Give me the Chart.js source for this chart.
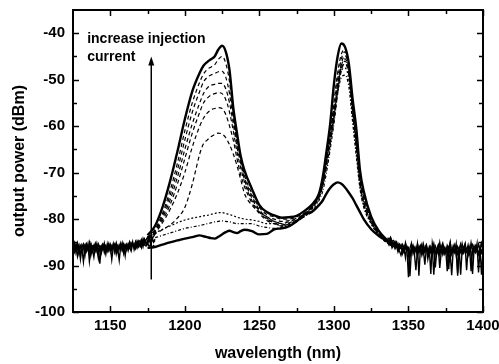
<!DOCTYPE html>
<html>
<head>
<meta charset="utf-8">
<script src="https://cdn.jsdelivr.net/npm/chart.js@4.4.1/dist/chart.umd.min.js"></script>
<style>
    html, body { margin: 0; padding: 0; background: #fff; }
    #wrap { width: 499px; height: 364px; }
</style>
</head>
<body>
<div id="wrap"><canvas id="spectrum" width="499" height="364"></canvas></div>
<script>
// Optical spectra vs injection current - Chart.js recreation

// wavelength grid (nm) shared by the smooth spectra
const wl = [1175, 1180, 1185, 1190, 1195, 1200, 1205,
    1210, 1212.5, 1215, 1217.5, 1220, 1222.5, 1225, 1227.5, 1230, 1232.5, 1235, 1237.5, 1240,
    1245, 1250, 1255, 1260, 1265, 1270, 1275, 1280, 1285, 1290,
    1292.5, 1295, 1297.5, 1300, 1302.5, 1305, 1307.5, 1310, 1312.5, 1315, 1317.5, 1320,
    1325, 1330, 1335, 1340, 1345];

// highest current (thick solid)
const specTop = [-83.5, -81.5, -77.5, -72, -65.5, -58.5, -52.5,
    -48.5, -47, -46.2, -45.6, -45, -43.5, -42.7, -44, -48, -56, -61.5, -66.5, -69.5,
    -73.5, -77, -78.5, -79.2, -79.7, -79.6, -79.3, -78.3, -77, -74.5,
    -71, -65.5, -59.5, -51, -45, -42.2, -43, -46.5, -54, -60.5, -69.5, -74,
    -79.5, -82.5, -84.3, -85.3, -86];

// intermediate currents (dashed)
const specD1 = [-84, -82.2, -78.8, -74, -68, -61, -55,
    -50.5, -48.8, -47.8, -47.3, -46.8, -45.6, -45, -46.5, -50.5, -57.5, -62.5, -67, -70.5,
    -74.5, -77.5, -79, -79.5, -80, -80, -79.5, -78.7, -77.5, -75,
    -72, -67, -62, -55, -48.5, -44.5, -43.5, -46.5, -54.5, -62, -70, -74.5,
    -80, -82.8, -84.5, -85.5, -86.2];
const specD2 = [-84, -82.4, -79.3, -75, -69.5, -63, -57,
    -52.5, -50.5, -49.5, -49, -48.7, -48.3, -48.2, -49.5, -53, -58.5, -63.5, -67.5, -71,
    -75, -78, -79.5, -80, -80.5, -80.3, -79.8, -79, -77.5, -75,
    -72, -67, -62, -56, -50, -45.5, -44, -47, -55, -62.5, -70.5, -75,
    -80.2, -83, -84.6, -85.6, -86.3];
const specD3 = [-84, -82.6, -79.8, -76, -71, -65, -59.5,
    -55, -53, -51.8, -51.2, -51, -50.8, -50.8, -52, -55, -59.5, -64.5, -68, -71.5,
    -75.5, -78.3, -79.8, -80.5, -81, -80.5, -80, -79, -77.5, -75,
    -72, -67, -62, -57, -51, -46.5, -44.8, -47.5, -55.5, -63, -71, -75.5,
    -80.3, -83, -84.6, -85.6, -86.3];
const specD4 = [-84, -82.8, -80.3, -77, -72.5, -67, -61.5,
    -57, -55, -54, -53.3, -53, -52.8, -53, -54.3, -57, -61, -65.5, -69, -72,
    -76, -78.5, -80, -80.8, -81.3, -80.8, -80.2, -79.2, -77.5, -75,
    -72.2, -67.5, -62.5, -58, -52, -47, -45.5, -48, -56, -63.5, -71.5, -76,
    -80.5, -83.1, -84.7, -85.7, -86.4];
const specD5 = [-84.2, -83, -80.8, -78, -74.5, -70, -64.5,
    -60, -58.3, -57.2, -56.5, -56.2, -56, -56.2, -57.5, -60, -63, -67, -70.5, -73,
    -76.5, -78.8, -80.3, -81, -81.5, -81, -80.3, -79.3, -77.5, -75.2,
    -72.5, -68, -63, -58.5, -52.5, -47.5, -46, -48.5, -56.5, -64, -72, -76.5,
    -80.5, -83.2, -84.7, -85.7, -86.4];
const specD6 = [-84.2, -83.2, -82.3, -81.3, -79.8, -77.5, -72.5,
    -66, -63.8, -63, -62.3, -61.8, -61.5, -61.7, -62.5, -64, -66, -68.5, -71.5, -74.5,
    -77, -78.5, -79.5, -80.5, -81, -81.5, -80.5, -79.5, -77.8, -75.3,
    -72.8, -68.5, -63.5, -59, -53, -48, -46.5, -49, -57, -64.5, -72.5, -76.8,
    -80.7, -83.3, -84.8, -85.8, -86.5];

// low currents (dotted)
const specP1 = [-84, -83, -82.2, -81.5, -80.8, -80.2, -79.8,
    -79.5, -79.3, -79.2, -79, -78.8, -78.6, -78.6, -78.8, -79, -79.3, -79.6, -79.8, -80,
    -80.2, -80.5, -81, -81, -81.5, -81, -80.5, -79.5, -78, -75.5,
    -73, -69, -64, -58, -51, -48, -47.5, -50, -58, -65.5, -73, -77,
    -81, -83.4, -84.9, -85.8, -86.5];
const specP2 = [-84.5, -84, -83.5, -83, -82.5, -82, -81.7,
    -81.4, -81.2, -81, -80.8, -80.6, -80.5, -80.4, -80.5, -80.6, -80.8, -81, -81, -81,
    -81, -81.5, -81.8, -82, -81.8, -81.2, -80.5, -79.5, -78.5, -76,
    -74, -70, -65, -59.5, -53, -49.5, -49, -51.5, -59, -66.5, -73.5, -77.5,
    -81, -83.5, -85, -85.9, -86.6];

// lowest current (thick solid)
const specLow = [-86.2, -86, -85.5, -85, -84.6, -84.2, -83.9,
    -83.5, -83.7, -83.9, -84.1, -84.2, -83.8, -83.3, -82.8, -82.5, -82.8, -83, -82.6, -82.3,
    -82.6, -83.3, -83.2, -82.2, -82, -81.5, -80.5, -79, -78.5, -77,
    -76, -74.5, -73.3, -72.5, -72.1, -72.4, -73.2, -74.3, -75.5, -77, -78.5, -80,
    -82.2, -83.6, -84.6, -85.5, -86.2];

// noise floor traces, 1 nm apart
const noiseLeftStart = 1125;
const noiseL1 = [-86.5, -85.2, -87.3, -86, -85.5, -88.6, -86.2, -85.4, -86.9, -85.8,
    -86.4, -85.1, -87.8, -86.3, -85.6, -86.8, -85.3, -87.1, -86, -85.7,
    -86.6, -85.2, -86.9, -85.9, -86.3, -85.4, -86.7, -85.6, -86.2, -85.1,
    -86.5, -88.9, -85.8, -86.1, -85.3, -86.4, -85.6, -86, -84.9, -85.8,
    -85.2, -86.1, -84.8, -85.5, -85, -84.6, -85.6, -84.2, -85.1, -84.5,
    -83.9, -84.8, -83.6, -84.2, -83.8, -83.2];
const noiseL2 = [-85.8, -86.9, -85.4, -86.3, -87.6, -85.9, -86.5, -89.2, -86, -85.3,
    -86.7, -86.1, -85.5, -87, -86.2, -85.2, -86.4, -88.4, -85.9, -86.5,
    -85.6, -87.2, -85.8, -86.4, -85.3, -86.9, -85.7, -86.3, -85.5, -87.5,
    -85.9, -86.2, -85.4, -86.6, -85.7, -87.9, -85.5, -85.9, -86.3, -85.1,
    -85.7, -85.3, -86.2, -84.7, -85.4, -85.9, -84.9, -85.3, -84.4, -85.5,
    -84.7, -84.1, -85.2, -84.4, -84.9, -84.3];
const noiseL3 = [-86.9, -86.1, -85.6, -88, -86.4, -85.7, -86.8, -86.2, -85.5, -86.9,
    -85.4, -89.1, -86.3, -85.8, -86.7, -86.1, -85.5, -86.4, -89.6, -86,
    -85.4, -86.3, -85.7, -86.9, -85.5, -86.1, -86.6, -85.3, -87.2, -86,
    -85.6, -86.4, -85.2, -86.8, -85.9, -85.5, -86.6, -85.3, -86.1, -86.9,
    -85.4, -85.8, -86.4, -85.2, -86, -85.3, -86.2, -84.9, -85.6, -85.8,
    -85.1, -85.9, -85.5, -86.2, -85.7, -86];
const noiseL4 = [-85.3, -87.1, -86.2, -85.1, -86.6, -87.4, -85.5, -86.1, -87.9, -85.6,
    -86.2, -87, -85.3, -86.5, -88.2, -85.8, -86.9, -85.4, -86.3, -87.3,
    -85.5, -86.1, -87.6, -85.4, -86.8, -85.9, -88.7, -86.1, -85.4, -86.3,
    -87.1, -85.6, -86.5, -85.2, -87.4, -86, -85.4, -86.8, -85.6, -86.2,
    -84.9, -86.6, -85.5, -86.2, -84.8, -85.7, -84.5, -85.9, -84.3, -84.9,
    -85.4, -84.2, -84.8, -83.9, -85, -84.6];

const noiseRightStart = 1336;
const noiseR1 = [-84, -84.4, -83.9, -84.8, -84.6, -85.3, -84.9, -86.1, -85.4, -86.2,
    -85.5, -86.8, -85.1, -86.5, -92.5, -86.3, -85.2, -87.4, -86.1, -86.8,
    -85.3, -92.2, -86.4, -87.2, -85.4, -86.9, -85.7, -87.3, -86.4, -91.8,
    -85.2, -87, -85.8, -86.7, -87.4, -85.1, -86.9, -85.6, -87.1, -86.3,
    -91.2, -86.8, -85, -87.5, -86.2, -87, -85.4, -91.6, -86.6, -87.2,
    -85.3, -86.8, -85.5, -91, -86.4, -87.3, -85.1, -86.9, -85.8, -87,
    -85.3, -91.5, -86.6, -85.2, -86.8];
const noiseR2 = [-84.6, -85, -84.3, -85.4, -85.2, -84.8, -85.9, -85.3, -86.4, -85.6,
    -86.9, -85.8, -86.3, -86, -87.1, -92.3, -86.7, -86, -87.6, -86.2,
    -87.3, -86.5, -85.7, -87, -86.6, -89.8, -86.3, -87.1, -85.9, -86.8,
    -87.5, -86.2, -90.4, -86.9, -85.7, -87.2, -86.4, -87.6, -86.1, -86.9,
    -86.3, -90.8, -86.5, -87.4, -85.8, -86.9, -86.2, -87.5, -86.4, -92,
    -86.6, -87.3, -85.9, -86.8, -87.6, -86.2, -91.2, -86.7, -87.1, -85.9,
    -86.8, -87.3, -86.2, -86.9, -86.3];
const noiseR3 = [-85.1, -84.7, -85.5, -85.2, -85.8, -86.1, -85.4, -86.6, -86.9, -87.8,
    -86.4, -87.2, -86.1, -86.8, -86.2, -88.1, -87, -86.4, -87.5, -91,
    -86.7, -87.3, -86.2, -87.8, -86.5, -87.1, -86, -88.6, -86.8, -87.3,
    -86.4, -92, -86.9, -87.4, -86.2, -90.5, -87, -86.5, -87.6, -86.8,
    -87.2, -86.1, -87.4, -92.1, -86.7, -87.3, -86.4, -92.2, -87, -86.5,
    -87.4, -86.2, -87.1, -86.6, -87.8, -86.3, -87, -91.8, -86.5, -87.2,
    -86.4, -87.6, -86.1, -92, -86.7];
const noiseR4 = [-84.9, -85.6, -85, -86.2, -85.6, -86.4, -85.8, -87.1, -86.3, -85.7,
    -87.4, -86.1, -88.3, -85.9, -86.7, -87.5, -86.2, -85.6, -87, -86.4,
    -87.9, -85.8, -86.6, -85.4, -87.3, -86.1, -85.5, -86.9, -87.6, -85.9,
    -86.6, -85.3, -87.2, -86.4, -85.6, -87.7, -86, -85.2, -86.8, -87.4,
    -85.7, -86.5, -85.1, -87, -86.3, -85.5, -87.8, -85.9, -86.6, -85.4,
    -87.2, -86.1, -85.3, -86.9, -85.6, -87.4, -86.2, -85.5, -86.7, -85.8,
    -87.1, -85.4, -86.5, -87.3, -85.9];

// axes
const xMin = 1125, xMax = 1400;
const yMin = -100, yMax = -35;
const xMajorTicks = [1150, 1200, 1250, 1300, 1350, 1400];
const xMinorTicks = [1175, 1225, 1275, 1325, 1375];
const yMajorTicks = [-100, -90, -80, -70, -60, -50, -40];
const yMinorTicks = [-95, -85, -75, -65, -55, -45];

// annotation: arrow + text
const arrowX = [1177.5, 1177.5];
const arrowY = [-93, -45];
const noteLines = ['increase injection', 'current'];
const noteX = 1134.5;
const noteY = [-42, -46];

const fontFace = "'Liberation Sans', Arial, Helvetica, sans-serif";

function toPoints(xs, ys) {
    return ys.map((v, i) => ({ x: xs[i], y: v }));
}

function noisePoints(start, ys) {
    return ys.map((v, i) => ({ x: start + i, y: v }));
}

function spectrum(ys, width, dash) {
    return {
        data: toPoints(wl, ys),
        borderColor: '#000',
        borderWidth: width,
        borderDash: dash,
        pointRadius: 0,
        fill: false,
        cubicInterpolationMode: 'monotone'
    };
}

function noise(start, ys) {
    return {
        data: noisePoints(start, ys),
        borderColor: '#000',
        borderWidth: 1.4,
        pointRadius: 0,
        fill: false,
        tension: 0
    };
}

// inward ticks on all four sides, frame, arrow and note
const frameTicks = {
    id: 'frameTicks',
    afterDatasetsDraw(chart) {
        const { ctx, chartArea: a, scales: { x, y } } = chart;
        ctx.save();
        ctx.strokeStyle = '#000';
        ctx.fillStyle = '#000';
        ctx.lineWidth = 1.5;

        const seg = (x1, y1, x2, y2) => {
            ctx.beginPath();
            ctx.moveTo(x1, y1);
            ctx.lineTo(x2, y2);
            ctx.stroke();
        };

        const xTick = (v, len) => {
            const px = Math.round(x.getPixelForValue(v)) + 0.5;
            seg(px, a.bottom, px, a.bottom - len);
            seg(px, a.top, px, a.top + len);
        };
        const yTick = (v, len) => {
            const py = Math.round(y.getPixelForValue(v)) + 0.5;
            seg(a.left, py, a.left + len, py);
            seg(a.right, py, a.right - len, py);
        };
        xMajorTicks.forEach(v => xTick(v, 6));
        xMinorTicks.forEach(v => xTick(v, 4));
        yMajorTicks.forEach(v => yTick(v, 6));
        yMinorTicks.forEach(v => yTick(v, 4));

        ctx.lineWidth = 2;
        ctx.strokeRect(a.left, a.top, a.right - a.left, a.bottom - a.top);

        // arrow
        const ax = x.getPixelForValue(arrowX[0]);
        const ay0 = y.getPixelForValue(arrowY[0]);
        const ay1 = y.getPixelForValue(arrowY[1]);
        ctx.lineWidth = 1.5;
        seg(ax, ay0, ax, ay1 + 6);
        ctx.beginPath();
        ctx.moveTo(ax, ay1);
        ctx.lineTo(ax - 3, ay1 + 9);
        ctx.lineTo(ax + 3, ay1 + 9);
        ctx.closePath();
        ctx.fill();

        // note text
        ctx.font = 'bold 14px ' + fontFace;
        ctx.textAlign = 'left';
        ctx.textBaseline = 'alphabetic';
        noteLines.forEach((t, i) => {
            ctx.fillText(t, x.getPixelForValue(noteX), y.getPixelForValue(noteY[i]));
        });
        ctx.restore();
    }
};

const datasets = [
    noise(noiseLeftStart, noiseL1),
    noise(noiseLeftStart, noiseL2),
    noise(noiseLeftStart, noiseL3),
    noise(noiseLeftStart, noiseL4),
    noise(noiseRightStart, noiseR1),
    noise(noiseRightStart, noiseR2),
    noise(noiseRightStart, noiseR3),
    noise(noiseRightStart, noiseR4),
    spectrum(specP2, 1.2, [3, 2, 1, 2]),
    spectrum(specP1, 1.2, [2, 2]),
    spectrum(specD6, 1.2, [4, 3]),
    spectrum(specD5, 1.2, [4, 3]),
    spectrum(specD4, 1.2, [4, 3]),
    spectrum(specD3, 1.2, [4, 3]),
    spectrum(specD2, 1.2, [4, 3]),
    spectrum(specD1, 1.2, [4, 3]),
    spectrum(specLow, 2.4, []),
    spectrum(specTop, 2.4, [])
];

new Chart(document.getElementById('spectrum'), {
    type: 'line',
    data: { datasets: datasets },
    options: {
        responsive: false,
        animation: false,
        devicePixelRatio: 1,
        events: [],
        layout: { padding: { top: 10, right: 16, bottom: 0, left: 0 } },
        plugins: { legend: { display: false }, tooltip: { enabled: false } },
        scales: {
            x: {
                type: 'linear',
                position: 'bottom',
                min: xMin,
                max: xMax,
                afterBuildTicks: s => { s.ticks = xMajorTicks.map(v => ({ value: v })); },
                afterFit: s => { s.height = 52; s.paddingLeft = 0; s.paddingRight = 0; },
                grid: { display: false, drawTicks: false },
                border: { display: false },
                ticks: {
                    color: '#000',
                    padding: 5,
                    maxRotation: 0,
                    font: { family: fontFace, size: 15, weight: 'bold' },
                    callback: v => String(v)
                },
                title: {
                    display: true,
                    text: 'wavelength (nm)',
                    color: '#000',
                    font: { family: fontFace, size: 16, weight: 'bold' },
                    padding: { top: 0, bottom: 1 }
                }
            },
            y: {
                type: 'linear',
                position: 'left',
                min: yMin,
                max: yMax,
                afterBuildTicks: s => { s.ticks = yMajorTicks.map(v => ({ value: v })); },
                afterFit: s => { s.width = 73; s.paddingTop = 0; s.paddingBottom = 0; },
                grid: { display: false, drawTicks: false },
                border: { display: false },
                ticks: {
                    color: '#000',
                    padding: 8,
                    font: { family: fontFace, size: 15, weight: 'bold' },
                    callback: v => String(v)
                },
                title: {
                    display: true,
                    text: 'output power (dBm)',
                    color: '#000',
                    font: { family: fontFace, size: 16, weight: 'bold' },
                    padding: { top: 10, bottom: 0 }
                }
            }
        }
    },
    plugins: [frameTicks]
});
</script>
</body>
</html>
